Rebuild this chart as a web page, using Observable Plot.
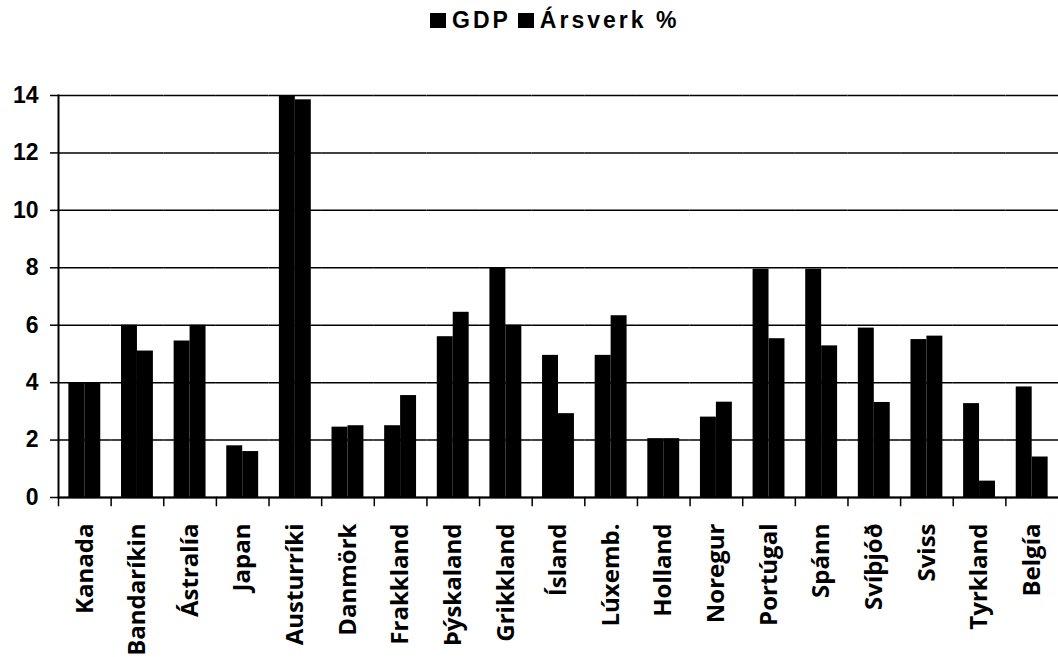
<!DOCTYPE html>
<html>
<head>
<meta charset="utf-8">
<script src="https://cdn.jsdelivr.net/npm/d3@7"></script>
<script src="https://cdn.jsdelivr.net/npm/@observablehq/plot@0.6"></script>
<style>
  html, body { margin: 0; padding: 0; background: #fff; }
  #legend { height: 50px; display: flex; align-items: center; padding-left: 430px; padding-bottom: 10px; box-sizing: border-box;
            font-family: "Liberation Sans", Arial, sans-serif; font-weight: bold; font-size: 23px; color: #000; }
  #legend .item { display: flex; align-items: center; margin-right: 7px; }
  #legend .sw { width: 16px; height: 15px; background: #000; margin-right: 6px; }
  #legend span { letter-spacing: 3px; }
</style>
</head>
<body>
<div id="legend"></div>
<div id="chart"></div>
<script>
const countries = ["Kanada", "Bandaríkin", "Ástralía", "Japan", "Austurríki", "Danmörk", "Frakkland", "Þýskaland", "Grikkland", "Ísland", "Lúxemb.", "Holland", "Noregur", "Portúgal", "Spánn", "Svíþjóð", "Sviss", "Tyrkland", "Belgía"];
const series = ["GDP", "Ársverk %"];
const gdp = [4.0, 6.0, 5.45, 1.8, 14.0, 2.45, 2.5, 5.6, 8.0, 4.95, 4.95, 2.05, 2.8, 7.95, 7.95, 5.9, 5.5, 3.27, 3.85];
const arsverk = [4.0, 5.1, 6.0, 1.6, 13.85, 2.5, 3.55, 6.45, 6.0, 2.92, 6.33, 2.05, 3.32, 5.53, 5.28, 3.31, 5.62, 0.57, 1.41];
const yTicks = [0, 2, 4, 6, 8, 10, 12, 14];

const rows = countries.flatMap((c, i) => [
  {country: c, series: series[0], value: gdp[i]},
  {country: c, series: series[1], value: arsverk[i]}
]);

// legend
const legend = document.getElementById("legend");
for (const s of series) {
  const item = document.createElement("div");
  item.className = "item";
  const sw = document.createElement("div");
  sw.className = "sw";
  const t = document.createElement("span");
  t.textContent = s;
  item.append(sw, t);
  legend.append(item);
}

const W = 1058, H = 607, mL = 58, mR = 0, mT = 45, mB = 160;
const innerH = H - mT - mB;

const chart = Plot.plot({
  width: W,
  height: H,
  marginTop: mT,
  marginBottom: mB,
  marginLeft: mL,
  marginRight: mR,
  style: {background: "#fff", color: "#000"},
  fx: {domain: countries, padding: 0, round: false, label: null, axis: null},
  x: {domain: series, paddingInner: 0, paddingOuter: 0.65, round: false, axis: null},
  y: {domain: [0, 14], label: null},
  marks: [
    Plot.gridY(yTicks, {stroke: "#000", strokeOpacity: 1, strokeWidth: 1.5}),
    Plot.barY(rows, {fx: "country", x: "series", y: "value", fill: "#000"}),
    Plot.ruleY([0], {stroke: "#000", strokeWidth: 2}),
    Plot.frame({anchor: "left", facetAnchor: "left", stroke: "#000", strokeWidth: 2}),
    // category boundary tick marks below the axis (left edge of each facet)
    Plot.frame({anchor: "left", insetTop: innerH, insetBottom: -8, stroke: "#000", strokeWidth: 1.5}),
    Plot.axisY(yTicks, {tickSize: 8, tickPadding: 12, fontSize: 23, fontWeight: "bold",
      fontFamily: "Liberation Sans, Arial, sans-serif", label: null, stroke: "#000", strokeWidth: 1.5}),
    Plot.axisFx({anchor: "bottom", tickSize: 0, tickPadding: 26, tickRotate: -90, fontSize: 24, fontWeight: "bold",
      fontFamily: "Open Sans, sans-serif", label: null})
  ]
});
document.getElementById("chart").append(chart);
</script>
</body>
</html>
